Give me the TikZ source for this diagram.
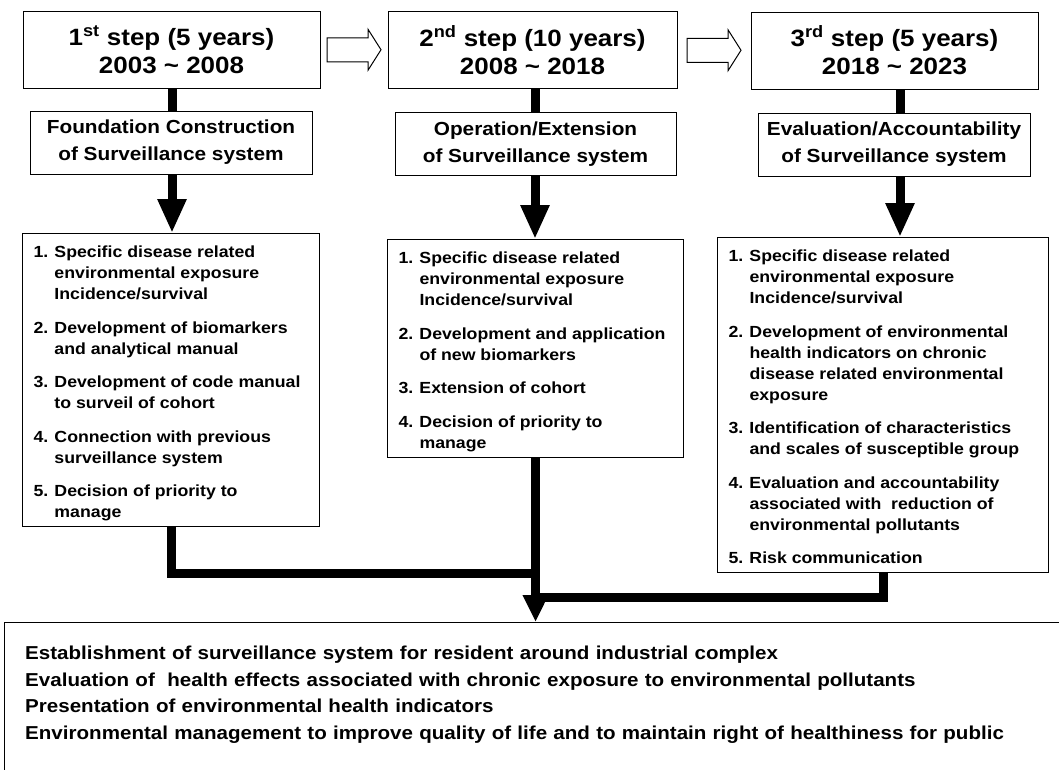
\documentclass[tikz,border=0pt]{standalone}
\usepackage{fontspec}
\setmainfont[FakeStretch=1.1]{Liberation Sans}
\usetikzlibrary{arrows.meta,calc}

\begin{document}
\begin{tikzpicture}[x=1pt,y=-1pt,
  stepbox/.style={draw,line width=1pt,color=kBlack,minimum height=77pt,inner sep=0pt,align=center,font=\bfseries\fontsize{23.6}{28}\selectfont},
  subbox/.style={draw,line width=1pt,color=kBlack,minimum height=63pt,inner sep=0pt,align=center,font=\bfseries\fontsize{18.9}{27}\selectfont},
  listbox/.style={draw,line width=1pt,color=kBlack,anchor=north west,inner xsep=11pt,inner ysep=9.3pt,text depth=0pt,font=\bfseries\fontsize{16.1}{21}\selectfont},
  goalbox/.style={anchor=north west,text width=1040pt,align=left,inner xsep=21pt,inner ysep=24pt,font=\bfseries\fontsize{18.7}{26.5}\selectfont},
  bar/.style={line width=9pt,color=kBlack},
  hollow/.style={draw,line width=1pt,color=kBlack}]
  % colors
  \definecolor{kBlack}{rgb}{0.0,0.0,0.0}
  % page
  \useasboundingbox (0,0) rectangle (1059,769);
  \clip (0,0) rectangle (1059,769);
  % steps
  \node[stepbox,minimum width=297pt] (s1) at (171.5,49.5) {1\textsuperscript{st} step (5 years)\\2003 \textasciitilde{} 2008};
  \node[stepbox,minimum width=289pt] (s2) at (532.5,50) {2\textsuperscript{nd} step (10 years)\\2008 \textasciitilde{} 2018};
  \node[stepbox,minimum width=287pt] (s3) at (894.5,50.5) {3\textsuperscript{rd} step (5 years)\\2018 \textasciitilde{} 2023};
  \node[subbox,minimum width=282pt] (sub1) at (171,142.5) {Foundation Construction\\of Surveillance system};
  \node[subbox,minimum width=281pt] (sub2) at (535.5,144) {Operation/Extension\\of Surveillance system};
  \node[subbox,minimum width=272pt] (sub3) at (894,144.5) {Evaluation/Accountability\\of Surveillance system};
  % tasks
  \node[listbox] (l1) at (22,233) {\begin{tabular}[b]{@{}p{21pt}@{}p{254pt}@{}}
    1. & Specific disease related\\ & environmental exposure\\ & Incidence/survival\\[12.5pt]
    2. & Development of biomarkers\\ & and analytical manual\\[12.5pt]
    3. & Development of code manual\\ & to surveil of cohort\\[12.5pt]
    4. & Connection with previous\\ & surveillance system\\[12.5pt]
    5. & Decision of priority to\\ & manage
  \end{tabular}};
  \node[listbox] (l2) at (387,239) {\begin{tabular}[b]{@{}p{21pt}@{}p{253pt}@{}}
    1. & Specific disease related\\ & environmental exposure\\ & Incidence/survival\\[12.5pt]
    2. & Development and application\\ & of new biomarkers\\[12.5pt]
    3. & Extension of cohort\\[12.5pt]
    4. & Decision of priority to\\ & manage
  \end{tabular}};
  \node[listbox] (l3) at (717,237) {\begin{tabular}[b]{@{}p{21pt}@{}p{288pt}@{}}
    1. & Specific disease related\\ & environmental exposure\\ & Incidence/survival\\[12.5pt]
    2. & Development of environmental\\ & health indicators on chronic\\ & disease related environmental\\ & exposure\\[12.5pt]
    3. & Identification of characteristics\\ & and scales of susceptible group\\[12.5pt]
    4. & Evaluation and accountability\\ & associated with \ reduction of\\ & environmental pollutants\\[12.5pt]
    5. & Risk communication
  \end{tabular}};
  % goals
  \node[goalbox] (goal) at (4,622) {Establishment of surveillance system for resident around industrial complex\\
    Evaluation of \ health effects associated with chronic exposure to environmental pollutants\\
    Presentation of environmental health indicators\\
    Environmental management to improve quality of life and to maintain right of healthiness for public};
  \draw[line width=1pt,color=kBlack] ([yshift=-60pt]goal.south west) |- (goal.north east);
  % links
  \foreach \a/\b in {s1/s2,s2/s3} {
    \coordinate (m) at ($(\a.east)!0.5!(\b.west)$);
    \draw[hollow] ($(m)+(-27,-12)$) -- ++(41,0) -- ++(0,-8.5) -- ++(13,20.5) -- ++(-13,20.5) -- ++(0,-8.5) -- ++(-41,0) -- cycle;
  }
  \foreach \i/\cx in {1/172,2/535,3/900} {
    \coordinate (c\i) at (\cx,0);
    \draw[bar] (s\i.south -| c\i) -- (sub\i.north -| c\i);
    \draw[bar,-{Triangle[length=34pt,width=27pt]}] (sub\i.south -| c\i) -- (l\i.north -| c\i);
  }
  \coordinate (j1) at (0,573);
  \coordinate (j3) at (0,597);
  \draw[bar] (l1.south) |- (l2.south |- j1);
  \draw[bar] (l3.south) |- (l2.south |- j3);
  \draw[bar,-{Triangle[length=27pt,width=24pt]}] (l2.south) -- (goal.north -| l2.south);
\end{tikzpicture}
\end{document}
